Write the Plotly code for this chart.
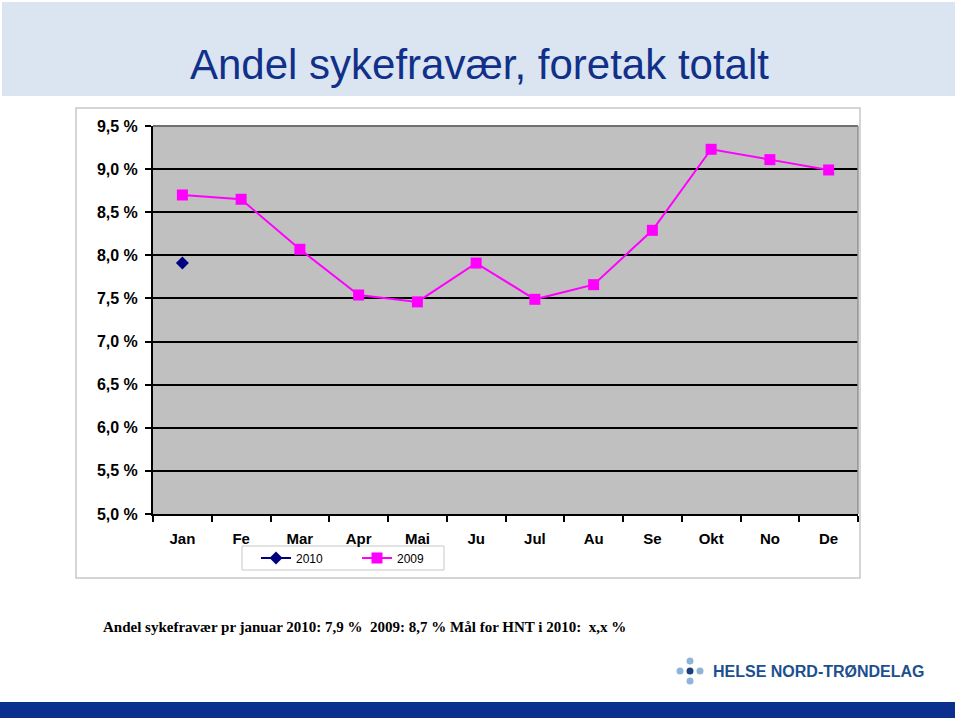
import plotly.graph_objects as go

months = ["Jan", "Fe", "Mar", "Apr", "Mai", "Ju", "Jul", "Au", "Se", "Okt", "No", "De"]
sick_2009 = [8.70, 8.65, 8.07, 7.54, 7.46, 7.91, 7.49, 7.66, 8.29, 9.23, 9.11, 8.99]
sick_2010 = [7.91, None, None, None, None, None, None, None, None, None, None, None]
y_ticks = [5.0, 5.5, 6.0, 6.5, 7.0, 7.5, 8.0, 8.5, 9.0, 9.5]
y_labels = ["5,0 %", "5,5 %", "6,0 %", "6,5 %", "7,0 %", "7,5 %", "8,0 %", "8,5 %", "9,0 %", "9,5 %"]

W, H = 960, 720


def px(x):
    return x / W


def py(y):
    return 1 - y / H


fig = go.Figure()
fig.add_trace(go.Scatter(
    x=months, y=sick_2010, name="2010", mode="lines+markers",
    line=dict(color="#000080", width=2),
    marker=dict(symbol="diamond", size=10, color="#000080"),
))
fig.add_trace(go.Scatter(
    x=months, y=sick_2009, name="2009", mode="lines+markers",
    line=dict(color="#ff00ff", width=2),
    marker=dict(symbol="square", size=11, color="#ff00ff"),
))

shapes = [
    # title banner
    dict(type="rect", xref="paper", yref="paper", x0=px(2), x1=px(955), y0=py(96), y1=py(2),
         fillcolor="#dbe5f1", line_width=0, layer="below"),
    # chart frame
    dict(type="rect", xref="paper", yref="paper", x0=px(76), x1=px(860), y0=py(578), y1=py(108),
         fillcolor="rgba(0,0,0,0)", line=dict(color="#c8c8c8", width=1.5), layer="below"),
    # legend box
    dict(type="rect", xref="paper", yref="paper", x0=px(242), x1=px(444), y0=py(570), y1=py(546),
         fillcolor="white", line=dict(color="#c8c8c8", width=1), layer="below"),
    # plot border top/right
    dict(type="line", xref="paper", yref="paper", x0=px(153), x1=px(858), y0=py(126), y1=py(126),
         line=dict(color="#707070", width=2)),
    dict(type="line", xref="paper", yref="paper", x0=px(858), x1=px(858), y0=py(514), y1=py(126),
         line=dict(color="#909090", width=1.5)),
    # bottom bar
    dict(type="rect", xref="paper", yref="paper", x0=px(0), x1=px(955), y0=py(718), y1=py(702),
         fillcolor="#0a2f8f", line_width=0),
]
# logo dots
for cx, cy, col in [(680, 671, "#8fb4d9"), (700, 671, "#8fb4d9"), (690, 661, "#8fb4d9"),
                    (690, 681, "#8fb4d9"), (690, 671, "#17407f")]:
    shapes.append(dict(type="circle", xref="paper", yref="paper",
                       x0=px(cx - 3.5), x1=px(cx + 3.5), y0=py(cy + 3.5), y1=py(cy - 3.5),
                       fillcolor=col, line_width=0))

annotations = [
    dict(text="Andel sykefravær, foretak totalt", xref="paper", yref="paper",
         x=px(479), y=py(64), showarrow=False, xanchor="center", yanchor="middle",
         font=dict(family="Liberation Sans", size=42, color="#10308a")),
    dict(text="Andel sykefravær pr januar 2010: 7,9 %  2009: 8,7 % Mål for HNT i 2010:  x,x %",
         xref="paper", yref="paper", x=px(101), y=py(627), showarrow=False,
         xanchor="left", yanchor="middle",
         font=dict(family="Liberation Serif", size=15, color="black", weight="bold")),
    dict(text="HELSE NORD-TRØNDELAG", xref="paper", yref="paper", x=px(711), y=py(671),
         showarrow=False, xanchor="left", yanchor="middle",
         font=dict(family="Liberation Sans", size=16, color="#1c4f8f", weight="bold")),
]

fig.update_layout(
    width=W, height=H,
    margin=dict(l=0, r=0, t=0, b=0, autoexpand=False),
    paper_bgcolor="white",
    plot_bgcolor="#c0c0c0",
    showlegend=True,
    legend=dict(orientation="h", x=px(256), y=py(558), xanchor="left", yanchor="middle",
                bgcolor="rgba(0,0,0,0)", borderwidth=0,
                font=dict(family="Liberation Sans", size=12, color="black"),
                entrywidth=56, entrywidthmode="pixels", tracegroupgap=0),
    xaxis=dict(domain=[px(153), px(858)], type="category", range=[-0.5, 11.5], automargin=False,
               showgrid=False, showline=True, linecolor="black", linewidth=2,
               ticks="outside", tickson="boundaries", ticklen=6, tickcolor="black", tickwidth=2,
               ticklabelstandoff=10,
               tickfont=dict(family="Liberation Sans", size=15, color="black", weight="bold")),
    yaxis=dict(domain=[py(514), py(126)], range=[5.0, 9.5], tickvals=y_ticks, ticktext=y_labels,
               automargin=False,
               showgrid=True, gridcolor="black", gridwidth=2, zeroline=False,
               showline=True, linecolor="black", linewidth=2,
               ticks="outside", ticklen=6, tickcolor="black", tickwidth=2,
               ticklabelstandoff=4,
               tickfont=dict(family="Liberation Sans", size=16, color="black", weight="bold")),
    shapes=shapes,
    annotations=annotations,
)

page_fix = """
document.body.style.margin = '0px';
document.documentElement.style.overflow = 'hidden';
var gd = document.getElementById('{plot_id}');
gd.style.position = 'fixed';
gd.style.top = '0px';
gd.style.left = '0px';
"""

fig.write_html("out.html", config={"displayModeBar": False}, post_script=page_fix)
